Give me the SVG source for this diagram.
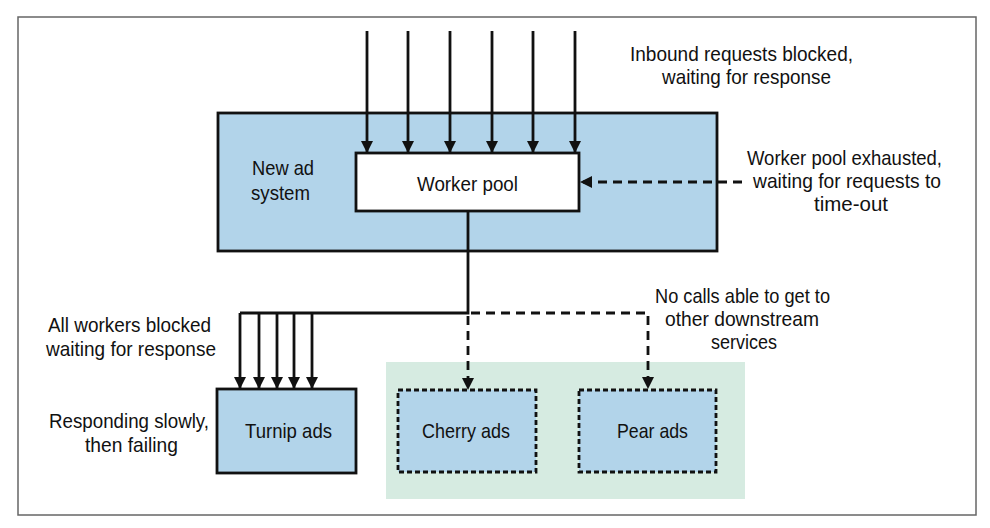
<svg xmlns="http://www.w3.org/2000/svg" width="990" height="528" viewBox="0 0 990 528">
<style>
text{font-family:"Liberation Sans","Noto Sans",sans-serif;font-size:21px;fill:#111;}
.frame{fill:#fff;stroke:#666;stroke-width:1.5;}
.blue{fill:#b2d4ea;stroke:#111;stroke-width:2.8;}
.white{fill:#fff;stroke:#111;stroke-width:2.8;}
.dbox{fill:#b2d4ea;stroke:#111;stroke-width:2.8;stroke-dasharray:5 3;}
.green{fill:#d6ebe1;stroke:none;}
.solid{fill:none;stroke:#111;stroke-width:2.8;}
.dash{fill:none;stroke:#111;stroke-width:2.8;stroke-dasharray:9 6;}
</style>
<defs>
<marker id="ah" viewBox="0 0 12 12" refX="12" refY="6" markerWidth="12" markerHeight="12" markerUnits="userSpaceOnUse" orient="auto">
<path d="M0,0 L12,6 L0,12 Z" fill="#111"/>
</marker>
</defs>
<rect class="frame" x="18" y="17" width="958" height="498"/>
<rect class="green" x="386" y="362" width="359" height="137"/>
<g id="new-ad-system">
<rect class="blue" x="218" y="113" width="499" height="138"/>
<text x="252" y="175" textLength="62" lengthAdjust="spacingAndGlyphs">New ad</text>
<text x="251" y="200" textLength="59" lengthAdjust="spacingAndGlyphs">system</text>
</g>
<g id="worker-pool">
<rect class="white" x="356" y="153" width="223" height="58"/>
<text x="417" y="191" textLength="101" lengthAdjust="spacingAndGlyphs">Worker pool</text>
</g>
<g id="turnip-ads">
<rect class="blue" x="217" y="389" width="139" height="84"/>
<text x="245" y="438" textLength="87" lengthAdjust="spacingAndGlyphs">Turnip ads</text>
</g>
<g id="cherry-ads">
<rect class="dbox" x="398" y="390" width="138" height="82"/>
<text x="422" y="438" textLength="88" lengthAdjust="spacingAndGlyphs">Cherry ads</text>
</g>
<g id="pear-ads">
<rect class="dbox" x="579" y="390" width="137" height="82"/>
<text x="617" y="438" textLength="71" lengthAdjust="spacingAndGlyphs">Pear ads</text>
</g>
<g id="connectors">
<line class="solid" x1="367" y1="31" x2="367" y2="153" marker-end="url(#ah)"/>
<line class="solid" x1="408" y1="31" x2="408" y2="153" marker-end="url(#ah)"/>
<line class="solid" x1="450" y1="31" x2="450" y2="153" marker-end="url(#ah)"/>
<line class="solid" x1="492" y1="31" x2="492" y2="153" marker-end="url(#ah)"/>
<line class="solid" x1="533" y1="31" x2="533" y2="153" marker-end="url(#ah)"/>
<line class="solid" x1="575" y1="31" x2="575" y2="153" marker-end="url(#ah)"/>
<line class="dash" x1="742" y1="182" x2="580" y2="182" marker-end="url(#ah)"/>
<path class="solid" d="M468,211 V313 H240"/>
<line class="solid" x1="240" y1="313" x2="240" y2="389" marker-end="url(#ah)"/>
<line class="solid" x1="259" y1="313" x2="259" y2="389" marker-end="url(#ah)"/>
<line class="solid" x1="277" y1="313" x2="277" y2="389" marker-end="url(#ah)"/>
<line class="solid" x1="294" y1="313" x2="294" y2="389" marker-end="url(#ah)"/>
<line class="solid" x1="312" y1="313" x2="312" y2="389" marker-end="url(#ah)"/>
<line class="dash" x1="468" y1="316" x2="468" y2="390" marker-end="url(#ah)"/>
<path class="dash" d="M471,313 H648 V389" marker-end="url(#ah)"/>
</g>
<g id="labels">
<text x="630" y="61" textLength="223" lengthAdjust="spacingAndGlyphs">Inbound requests blocked,</text>
<text x="662" y="84" textLength="169" lengthAdjust="spacingAndGlyphs">waiting for response</text>
<text x="747" y="165" textLength="195" lengthAdjust="spacingAndGlyphs">Worker pool exhausted,</text>
<text x="753" y="188" textLength="188" lengthAdjust="spacingAndGlyphs">waiting for requests to</text>
<text x="814" y="211" textLength="74" lengthAdjust="spacingAndGlyphs">time-out</text>
<text x="655" y="303" textLength="175" lengthAdjust="spacingAndGlyphs">No calls able to get to</text>
<text x="665" y="326" textLength="154" lengthAdjust="spacingAndGlyphs">other downstream</text>
<text x="711" y="349" textLength="66" lengthAdjust="spacingAndGlyphs">services</text>
<text x="48" y="332" textLength="163" lengthAdjust="spacingAndGlyphs">All workers blocked</text>
<text x="46" y="356" textLength="170" lengthAdjust="spacingAndGlyphs">waiting for response</text>
<text x="49" y="428" textLength="160" lengthAdjust="spacingAndGlyphs">Responding slowly,</text>
<text x="85" y="452" textLength="93" lengthAdjust="spacingAndGlyphs">then failing</text>
</g>
</svg>
